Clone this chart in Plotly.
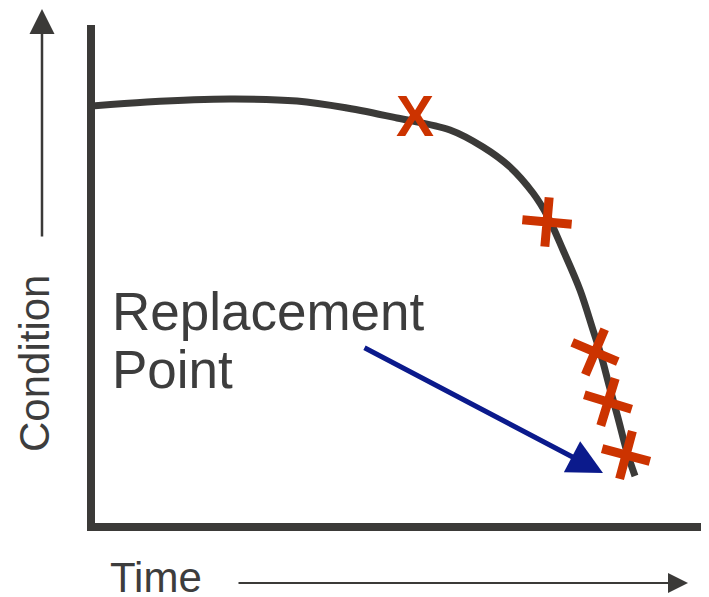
import plotly.graph_objects as go

# Curve (time, condition)
time = [2, 56, 139, 206, 256, 306, 359, 392, 419, 442, 457, 472, 489, 502, 510, 518, 527, 536, 544]
condition = [421, 425, 428, 426, 419, 409, 397, 380, 360, 334, 310, 277, 237, 197, 172, 142, 109, 75, 51]

# Inspection points (X marks); the first one drawn as a letter-like X
first_time = [324]
first_cond = [405]
insp_time = [456, 504, 517, 535]
insp_cond = [305, 175, 125, 72]
insp_angle = [-40, -22, -28, -30]

X0, X1 = 4.0, 618.0
Y0, Y1 = 4.0, 502.0

def px(t):
    return (t - X0) / (X1 - X0)

def py(c):
    return (c - Y0) / (Y1 - Y0)

red = "#cc3300"
fig = go.Figure()
fig.add_trace(go.Scatter(x=time, y=condition, mode="lines",
                         line=dict(color="#3b3a38", width=7, shape="spline", smoothing=1.0),
                         hoverinfo="skip", showlegend=False))
fig.add_trace(go.Scatter(x=first_time, y=first_cond, mode="text", text=["X"],
                         textposition="middle center",
                         textfont=dict(family="Liberation Sans, Arial", size=57, color=red,
                                       weight="bold"),
                         showlegend=False))
fig.add_trace(go.Scatter(x=insp_time, y=insp_cond, mode="markers",
                         marker=dict(symbol="x-thin-open", size=35, angle=insp_angle,
                                     color=red, line=dict(color=red, width=9)),
                         showlegend=False))

txt = "#3d3d3d"
font_big = dict(family="Liberation Sans, Arial", size=53, color=txt)
font_ax = dict(family="Liberation Sans, Arial", size=42, color=txt)
ann = [
    dict(x=px(19), y=py(247), xref="paper", yref="paper", text="Replacement",
         showarrow=False, xanchor="left", yanchor="top", font=font_big),
    dict(x=px(19), y=py(189), xref="paper", yref="paper", text="Point",
         showarrow=False, xanchor="left", yanchor="top", font=font_big),
    dict(x=px(512), y=py(54), xref="paper", yref="paper", ax=-240, ay=-126, text="",
         showarrow=True, arrowhead=2, arrowsize=1.4, arrowwidth=5, arrowcolor="#0b1a8c"),
    dict(x=px(-49), y=py(518), xref="paper", yref="paper", ax=0, ay=229, text="",
         showarrow=True, arrowhead=2, arrowsize=2, arrowwidth=2.5, arrowcolor="#3b3a38"),
    dict(x=px(597), y=py(-56), xref="paper", yref="paper", ax=-451, ay=0, text="",
         showarrow=True, arrowhead=2, arrowsize=2, arrowwidth=2, arrowcolor="#3b3a38"),
    dict(x=px(17), y=py(-50), xref="paper", yref="paper", text="Time", showarrow=False,
         xanchor="left", yanchor="middle", font=font_ax),
    dict(x=px(-57), y=py(163), xref="paper", yref="paper", text="Condition",
         showarrow=False, textangle=-90, xanchor="center", yanchor="middle", font=font_ax),
]

fig.update_layout(
    width=701, height=589,
    margin=dict(l=87, r=0, t=17, b=74, pad=0, autoexpand=False),
    paper_bgcolor="white", plot_bgcolor="white",
    annotations=ann,
    xaxis=dict(range=[X0, X1], showgrid=False, zeroline=False, showticklabels=False,
               ticks="", showline=True, linewidth=8, linecolor="#3b3a38", automargin=False),
    yaxis=dict(range=[Y0, Y1], showgrid=False, zeroline=False, showticklabels=False,
               ticks="", showline=True, linewidth=8, linecolor="#3b3a38", automargin=False),
)
fig.write_html("out.html")
